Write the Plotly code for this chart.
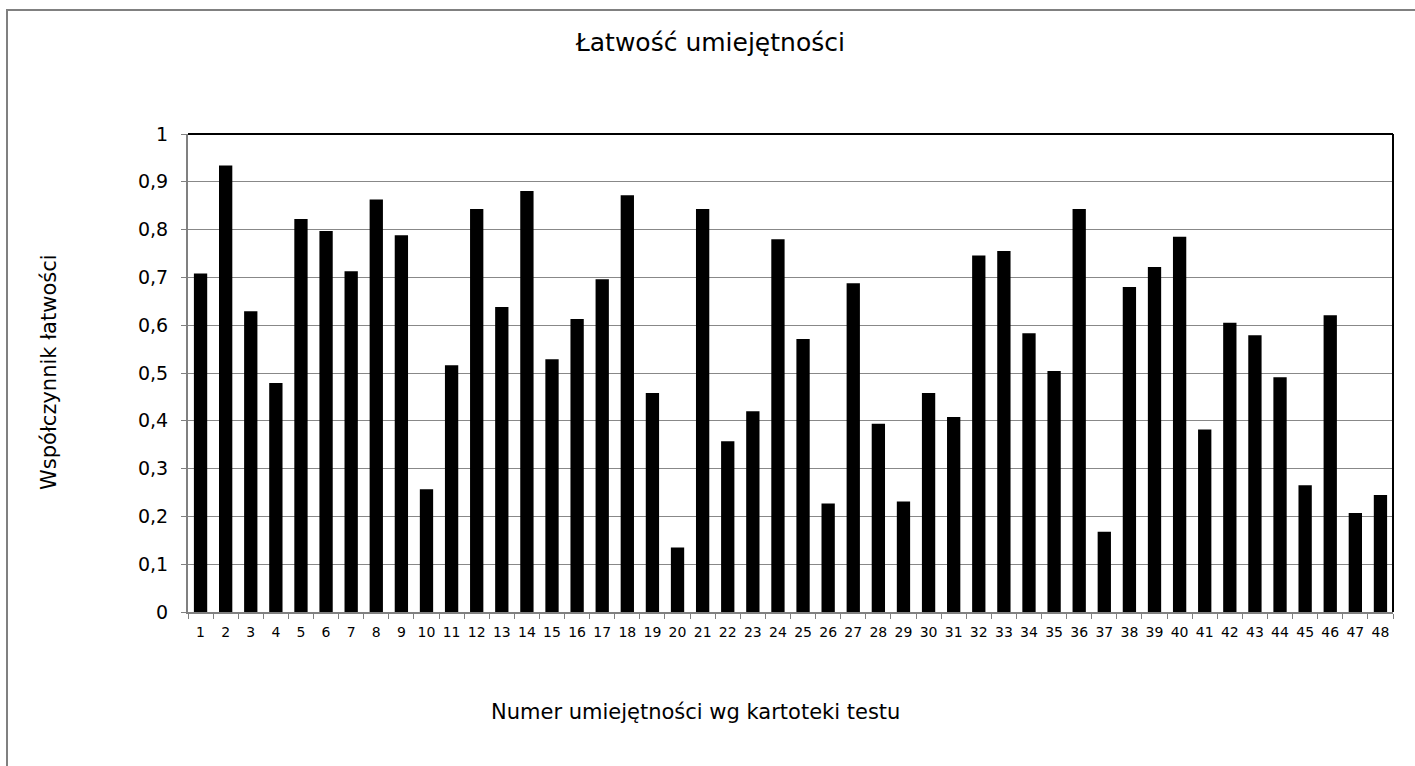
import plotly.graph_objects as go

# ======================================================================================================
# Data
# ======================================================================================================

umiejetnosci = [str(i) for i in range(1, 49)]

wspolczynnik = [0.708, 0.934, 0.629, 0.479, 0.822, 0.797, 0.713, 0.863, 0.788, 0.257,
                0.516, 0.843, 0.638, 0.881, 0.529, 0.613, 0.696, 0.872, 0.458, 0.135,
                0.843, 0.357, 0.420, 0.780, 0.571, 0.227, 0.688, 0.394, 0.231, 0.458,
                0.408, 0.746, 0.755, 0.583, 0.504, 0.843, 0.168, 0.680, 0.722, 0.785,
                0.382, 0.605, 0.579, 0.491, 0.265, 0.621, 0.207, 0.245]

y_ticks = [0, 0.1, 0.2, 0.3, 0.4, 0.5, 0.6, 0.7, 0.8, 0.9, 1]

tytul = 'Łatwość umiejętności'
tytul_x = 'Numer umiejętności wg kartoteki testu'
tytul_y = 'Współczynnik łatwości'

# ======================================================================================================
# Plot
# ======================================================================================================

FONT = 'DejaVu Sans'

fig = go.Figure(go.Bar(x=umiejetnosci,
                       y=wspolczynnik,
                       marker=dict(color='black', line=dict(width=0))))

fig.update_layout(width=1415,
                  height=766,
                  separators=', ',
                  paper_bgcolor='white',
                  plot_bgcolor='white',
                  showlegend=False,
                  bargap=0.47,
                  margin=dict(l=188, r=22, t=134, b=154),
                  font=dict(family=FONT, color='black'),
                  title={
                      'text': tytul,
                      'x': 0.502,
                      'xref': 'container',
                      'xanchor': 'center',
                      'y': 1 - 42 / 766,
                      'yref': 'container',
                      'yanchor': 'middle',
                      'font': dict(family=FONT, size=25, color='black')
                  })

fig.update_xaxes(type='category',
                 tickson='boundaries',
                 ticks='outside',
                 ticklen=5,
                 tickwidth=1,
                 tickcolor='#808080',
                 tickangle=0,
                 showline=True,
                 linecolor='#808080',
                 linewidth=2,
                 showgrid=False,
                 tickfont=dict(family=FONT, size=14, color='black'),
                 ticklabelstandoff=6)

fig.update_yaxes(range=[0, 1],
                 tickvals=y_ticks,
                 ticks='outside',
                 ticklen=5,
                 tickwidth=1,
                 tickcolor='#808080',
                 showline=True,
                 linecolor='#808080',
                 linewidth=2,
                 showgrid=True,
                 gridcolor='#888888',
                 gridwidth=1,
                 zeroline=False,
                 tickfont=dict(family=FONT, size=19, color='black'),
                 ticklabelstandoff=9)

# axis titles
fig.add_annotation(text=tytul_x, xref='paper', yref='paper',
                   x=(695 - 188) / 1205, y=-(712 - 612) / 478,
                   xanchor='center', yanchor='middle', showarrow=False,
                   font=dict(family=FONT, size=21, color='black'))
fig.add_annotation(text=tytul_y, xref='paper', yref='paper',
                   x=-(188 - 49) / 1205, y=(612 - 372) / 478,
                   xanchor='center', yanchor='middle', textangle=-90, showarrow=False,
                   font=dict(family=FONT, size=21, color='black'))

# top and right border of the plot area
fig.add_shape(type='line', xref='paper', yref='paper', x0=0, x1=1, y0=1, y1=1,
              line=dict(color='black', width=2))
fig.add_shape(type='line', xref='paper', yref='paper', x0=1, x1=1, y0=0, y1=1,
              line=dict(color='black', width=2))

# outer chart frame
fig.add_shape(type='rect', xref='paper', yref='paper',
              x0=-(188 - 7) / 1205, x1=1.2, y0=-0.6, y1=1 + (134 - 10) / 478,
              line=dict(color='#808080', width=2), layer='below')

fig.write_html("out.html",
               config={'displayModeBar': False},
               post_script="document.body.style.margin = '0';")
